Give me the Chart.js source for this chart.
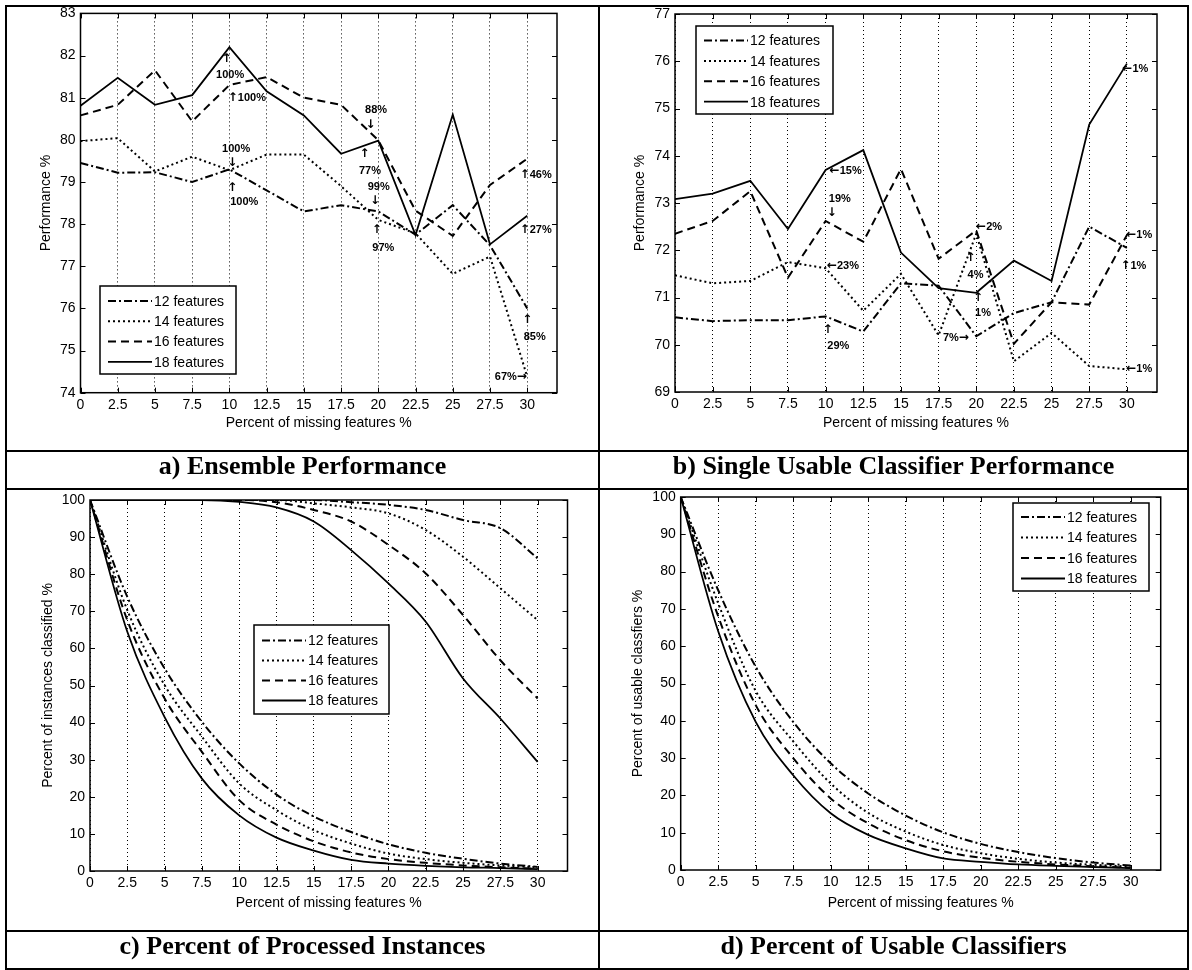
<!DOCTYPE html>
<html>
<head>
<meta charset="utf-8">
<script src="https://cdn.jsdelivr.net/npm/chart.js@4.4.0/dist/chart.umd.min.js"></script>
<style>
  body { margin: 0; background: #fff; width: 1192px; height: 970px; position: relative; overflow: hidden; }
  canvas { position: absolute; left: 0; top: 0; }
  .ln { position: absolute; background: #000; }
  .ttl { position: absolute; height: 38px; line-height: 38px; text-align: center; color: #000;
         font: bold 26px "Liberation Serif", "Times New Roman", serif; }
</style>
</head>
<body>
<canvas id="chartA" width="1192" height="970"></canvas>
<canvas id="chartB" width="1192" height="970"></canvas>
<canvas id="chartC" width="1192" height="970"></canvas>
<canvas id="chartD" width="1192" height="970"></canvas>

<!-- table lines -->
<div class="ln" style="left:5px;top:5px;width:1184px;height:2px"></div>
<div class="ln" style="left:5px;top:968px;width:1184px;height:2px"></div>
<div class="ln" style="left:5px;top:5px;width:2px;height:965px"></div>
<div class="ln" style="left:1187px;top:5px;width:2px;height:965px"></div>
<div class="ln" style="left:598px;top:5px;width:2px;height:965px"></div>
<div class="ln" style="left:5px;top:450px;width:1184px;height:2px"></div>
<div class="ln" style="left:5px;top:488px;width:1184px;height:2px"></div>
<div class="ln" style="left:5px;top:930px;width:1184px;height:2px"></div>

<div class="ttl" style="left:7px;width:591px;top:451px">a) Ensemble Performance</div>
<div class="ttl" style="left:600px;width:587px;top:451px">b) Single Usable Classifier Performance</div>
<div class="ttl" style="left:7px;width:591px;top:931px">c) Percent of Processed Instances</div>
<div class="ttl" style="left:600px;width:587px;top:931px">d) Percent of Usable Classifiers</div>

<script>
// x positions (percent of missing features) and tick labels
const xValues = [0, 2.5, 5, 7.5, 10, 12.5, 15, 17.5, 20, 22.5, 25, 27.5, 30];
const xTicks = [0, 2.5, 5, 7.5, 10, 12.5, 15, 17.5, 20, 22.5, 25, 27.5, 30];
const seriesNames = ['12 features', '14 features', '16 features', '18 features'];

// a) ensemble performance
const ensemble12 = [79.45, 79.22, 79.23, 79.0, 79.3, 78.8, 78.3, 78.45, 78.3, 77.75, 78.45, 77.5, 76.0];
const ensemble14 = [79.97, 80.04, 79.25, 79.6, 79.28, 79.65, 79.65, 78.9, 78.1, 77.78, 76.82, 77.23, 74.38];
const ensemble16 = [80.58, 80.83, 81.65, 80.44, 81.3, 81.49, 81.0, 80.83, 79.99, 78.32, 77.72, 78.93, 79.55];
const ensemble18 = [80.81, 81.47, 80.83, 81.06, 82.2, 81.15, 80.58, 79.67, 79.98, 77.74, 80.6, 77.52, 78.2];
const ensembleTicks = [74, 75, 76, 77, 78, 79, 80, 81, 82, 83];

// b) single usable classifier performance
const single12 = [70.58, 70.5, 70.52, 70.52, 70.6, 70.28, 71.3, 71.25, 70.18, 70.67, 70.9, 72.5, 72.05];
const single14 = [71.47, 71.3, 71.35, 71.75, 71.62, 70.72, 71.5, 70.2, 72.35, 69.65, 70.25, 69.55, 69.48];
const single16 = [72.35, 72.62, 73.25, 71.42, 72.62, 72.18, 73.72, 71.82, 72.42, 70.02, 70.9, 70.85, 72.32];
const single18 = [73.08, 73.2, 73.47, 72.45, 73.7, 74.12, 71.95, 71.2, 71.1, 71.78, 71.35, 74.66, 75.95];
const singleTicks = [69, 70, 71, 72, 73, 74, 75, 76, 77];

// c) percent of instances classified (upper) and usable classifiers (lower)
const inst12 = [100, 100, 100, 100, 100, 100, 100, 99.4, 98.7, 97.3, 94.6, 92.4, 84.3];
const inst14 = [100, 100, 100, 100, 100, 100, 99.1, 98, 96.4, 91.9, 84.7, 76.2, 67.6];
const inst16 = [100, 100, 100, 100, 100, 99.4, 97.3, 94.2, 87.9, 80.2, 69, 56.8, 46.5];
const inst18 = [100, 100, 100, 100, 99.5, 98, 94.2, 86.5, 77.5, 67.2, 51.9, 41.1, 29.4];
const instLow12 = [100, 73.9, 54.6, 40.2, 29, 20.6, 14.7, 10.5, 7.2, 4.9, 3.3, 2, 1.1];
const instLow14 = [100, 70.3, 50.1, 36.2, 23.6, 16.4, 11, 7.4, 4.7, 3.2, 2.2, 1.5, 1];
const instLow16 = [100, 67.6, 46.5, 32.1, 19.1, 12.5, 8, 5, 3.2, 2.2, 1.5, 1, 0.6];
const instLow18 = [100, 64.5, 41.5, 24.9, 15, 9, 5.5, 3, 2, 1.4, 1, 0.8, 0.5];

// d) percent of usable classifiers
const usable12 = [100, 75, 54.5, 39.7, 28.6, 20.5, 14.6, 10.1, 7, 4.8, 3.2, 2, 1.2];
const usable14 = [100, 71.5, 48, 34.5, 23.2, 15.3, 10.3, 6.7, 4.5, 3, 2, 1.4, 0.9];
const usable16 = [100, 68, 44.2, 30, 19.2, 12.5, 8, 5, 3.3, 2.2, 1.5, 1, 0.6];
const usable18 = [100, 64, 39.7, 25.4, 15.2, 9.4, 5.8, 3.1, 2.2, 1.5, 1.1, 0.8, 0.5];
const percentTicks = [0, 10, 20, 30, 40, 50, 60, 70, 80, 90, 100];

// annotations [x, y, text]
const ensembleNotes = [
  [9.8, 81.93, '↑'], [10.05, 81.55, '100%'],
  [11.17, 80.99, '↑100%'],
  [10.45, 79.78, '100%'], [10.2, 79.45, '↓'],
  [10.2, 78.85, '↑'], [11.0, 78.52, '100%'],
  [19.85, 80.72, '88%'], [19.47, 80.36, '↓'],
  [19.08, 79.67, '↑'], [19.44, 79.26, '77%'],
  [20.03, 78.89, '99%'], [19.78, 78.54, '↓'],
  [19.9, 77.86, '↑'], [20.34, 77.44, '97%'],
  [30.57, 79.17, '↑46%'], [30.57, 77.86, '↑27%'],
  [30.0, 75.72, '↑'], [30.5, 75.32, '85%'],
  [28.9, 74.37, '67%→']
];
const singleNotes = [
  [30.56, 75.83, '←1%'],
  [11.33, 73.67, '←15%'],
  [10.94, 73.08, '19%'], [10.41, 72.79, '↓'],
  [11.15, 71.66, '←23%'],
  [10.15, 70.32, '↑'], [10.84, 69.97, '29%'],
  [20.85, 72.5, '←2%'],
  [19.62, 71.83, '↑'], [19.95, 71.48, '4%'],
  [20.12, 70.99, '↑'], [20.45, 70.67, '1%'],
  [18.65, 70.14, '7%→'],
  [30.82, 72.33, '←1%'],
  [30.43, 71.66, '↑1%'],
  [30.82, 69.49, '←1%']
];

const dashes = [[8, 3, 2, 3], [2, 3], [8, 5], []];
const widths = [2, 2, 2, 1.8];
const FONT = '"Liberation Sans", Arial, sans-serif';
const tickFont = { family: FONT, size: 14 };
const noteFont = 'bold 11px ' + FONT;
const arrowFont = 'bold 12px "DejaVu Sans", sans-serif';

function drawNote(ctx, text, cx, cy) {
  // split into arrow / text runs so the arrows can use a heavier glyph
  const runs = [];
  for (const ch of text) {
    const isArrow = '←↑→↓'.includes(ch);
    const last = runs[runs.length - 1];
    if (last && last.arrow === isArrow) last.s += ch;
    else runs.push({ s: ch, arrow: isArrow });
  }
  let total = 0;
  runs.forEach(r => { ctx.font = r.arrow ? arrowFont : noteFont; r.w = ctx.measureText(r.s).width; total += r.w; });
  let px = cx - total / 2;
  runs.forEach(r => {
    ctx.font = r.arrow ? arrowFont : noteFont;
    ctx.fillText(r.s, px, cy);
    px += r.w;
  });
}

function decor(cfg) {
  return {
    id: 'decor',
    afterDraw(chart) {
      const { ctx, chartArea: a, scales: { x, y } } = chart;
      ctx.save();
      // annotations
      ctx.fillStyle = '#000';
      ctx.textAlign = 'left';
      ctx.textBaseline = 'middle';
      (cfg.notes || []).forEach(n => {
        drawNote(ctx, n[2], x.getPixelForValue(n[0]), y.getPixelForValue(n[1]));
      });
      // frame and inner tick marks
      ctx.strokeStyle = '#000';
      ctx.setLineDash([]);
      ctx.lineWidth = 1.5;
      ctx.strokeRect(a.left, a.top, a.right - a.left, a.bottom - a.top);
      ctx.lineWidth = 1;
      ctx.beginPath();
      y.ticks.forEach(t => {
        const py = Math.round(y.getPixelForValue(t.value)) + 0.5;
        ctx.moveTo(a.left, py); ctx.lineTo(a.left + 5, py);
        ctx.moveTo(a.right, py); ctx.lineTo(a.right - 5, py);
      });
      x.ticks.forEach(t => {
        const px = Math.round(x.getPixelForValue(t.value)) + 0.5;
        ctx.moveTo(px, a.bottom); ctx.lineTo(px, a.bottom - 5);
        ctx.moveTo(px, a.top); ctx.lineTo(px, a.top + 5);
      });
      ctx.stroke();
      // legend box
      const L = cfg.legend;
      ctx.fillStyle = '#fff';
      ctx.fillRect(L.x, L.y, L.w, L.h);
      ctx.lineWidth = 1.5;
      ctx.strokeRect(L.x, L.y, L.w, L.h);
      ctx.font = '14px ' + FONT;
      ctx.textAlign = 'left';
      seriesNames.forEach((name, i) => {
        const ry = L.y + L.first + i * L.step;
        ctx.setLineDash(dashes[i]);
        ctx.lineWidth = widths[i];
        ctx.beginPath();
        ctx.moveTo(L.x + 8, ry); ctx.lineTo(L.x + 52, ry);
        ctx.stroke();
        ctx.fillStyle = '#000';
        ctx.fillText(name, L.x + 54, ry + 1);
      });
      ctx.restore();
    }
  };
}

function makeChart(id, cfg) {
  const datasets = cfg.series.map((vals, i) => ({
    label: seriesNames[i % 4],
    data: xValues.map((xv, k) => ({ x: xv, y: vals[k] })),
    borderColor: '#000',
    borderWidth: widths[i % 4],
    borderDash: dashes[i % 4],
    pointRadius: 0,
    fill: false,
    tension: 0,
    cubicInterpolationMode: cfg.smooth ? 'monotone' : 'default'
  }));
  new Chart(document.getElementById(id), {
    type: 'line',
    data: { datasets },
    options: {
      responsive: false,
      animation: false,
      events: [],
      layout: { padding: cfg.pad },
      plugins: { legend: { display: false }, tooltip: { enabled: false } },
      scales: {
        x: {
          type: 'linear', min: 0, max: 32,
          afterBuildTicks: s => { s.ticks = xTicks.map(v => ({ value: v })); },
          afterFit: s => { s.height = cfg.xh; },
          ticks: { autoSkip: false, maxRotation: 0, padding: 4, color: '#000', font: tickFont },
          grid: { color: '#000', lineWidth: 1, drawTicks: false, borderDash: [1, 3] },
          border: { display: false, dash: [1, 3] },
          title: { display: true, text: 'Percent of missing features %', color: '#000', font: tickFont, padding: 0 }
        },
        y: {
          type: 'linear', min: cfg.yTicks[0], max: cfg.yTicks[cfg.yTicks.length - 1],
          afterBuildTicks: s => { s.ticks = cfg.yTicks.map(v => ({ value: v })); },
          afterFit: s => { s.width = cfg.yw; },
          ticks: { padding: 5, color: '#000', font: tickFont },
          grid: { display: false, drawTicks: false },
          border: { display: false },
          title: { display: true, text: cfg.yTitle, color: '#000', font: tickFont, padding: 0 }
        }
      }
    },
    plugins: [decor(cfg)]
  });
}

makeChart('chartA', {
  series: [ensemble12, ensemble14, ensemble16, ensemble18],
  yTicks: ensembleTicks, yTitle: 'Performance %',
  pad: { left: 37.6, right: 635, top: 13, bottom: 538.6 }, yw: 42.9, xh: 38.7,
  notes: ensembleNotes,
  legend: { x: 100, y: 286, w: 136, h: 88, first: 15, step: 20.3 }
});

makeChart('chartB', {
  series: [single12, single14, single16, single18],
  yTicks: singleTicks, yTitle: 'Performance %',
  pad: { left: 631.6, right: 35, top: 14, bottom: 538.6 }, yw: 43.4, xh: 39.4,
  notes: singleNotes,
  legend: { x: 696, y: 26, w: 137, h: 88, first: 14.5, step: 20.4 }
});

makeChart('chartC', {
  series: [inst12, inst14, inst16, inst18, instLow12, instLow14, instLow16, instLow18],
  yTicks: percentTicks, yTitle: 'Percent of instances classified %', smooth: true,
  pad: { left: 39.6, right: 624.5, top: 500, bottom: 58.6 }, yw: 50.4, xh: 40.4,
  legend: { x: 254, y: 625, w: 135, h: 89, first: 15.5, step: 20 }
});

makeChart('chartD', {
  series: [usable12, usable14, usable16, usable18],
  yTicks: percentTicks, yTitle: 'Percent of usable classfiers %', smooth: true,
  pad: { left: 629.6, right: 31.3, top: 497, bottom: 58.6 }, yw: 51.1, xh: 41.4,
  legend: { x: 1013, y: 503, w: 136, h: 88, first: 14, step: 20.5 }
});
</script>
</body>
</html>
